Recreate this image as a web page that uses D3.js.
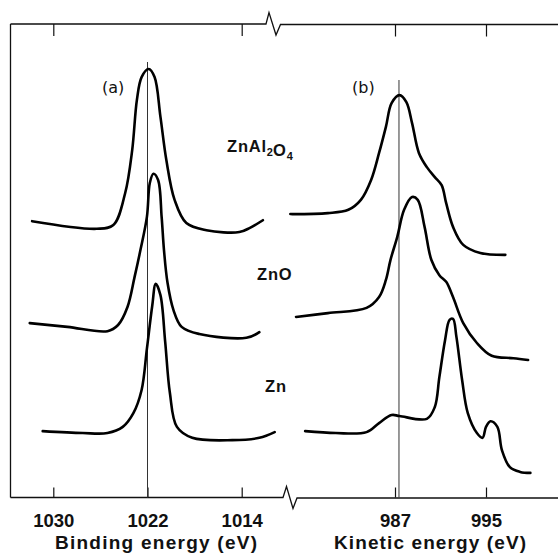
<!DOCTYPE html>
<html>
<head>
<meta charset="utf-8">
<script src="https://cdn.jsdelivr.net/npm/d3@7"></script>
<style>
  html, body { margin: 0; padding: 0; background: #fff; }
  svg { display: block; }
</style>
</head>
<body>
<svg id="chart" width="558" height="557"></svg>
<script>
// ---------- data ----------
const bindingTicks = [1030, 1022, 1014];
const bindingTopTicks = [1030, 1014];
const kineticTicks = [987, 995];
const refBinding = 1022;     // reference line, panel (a)
const refKinetic = 987.35;   // reference line, panel (b)
const panelLabels = ["(a)", "(b)"];
const sampleNames = ["ZnAl2O4", "ZnO", "Zn"];

// panel (a): Zn 2p3/2, binding energy (eV), intensity (a.u., stacked)
const znal2o4BE = [[1031.8,58.4],[1026.3,56.8],[1024.9,57.6],[1023.9,64.3],[1023.3,73.4],[1022.9,84.0],[1022.5,88.8],[1021.9,90.5],[1021.4,88.8],[1020.9,80.4],[1020.4,71.3],[1019.7,62.9],[1018.7,58.0],[1017.0,56.5],[1014.2,56.1],[1013.3,57.0],[1012.2,58.6]];
const znoBE = [[1032.0,36.9],[1028.8,36.1],[1025.4,35.2],[1024.5,36.5],[1023.7,40.3],[1023.1,46.6],[1022.6,52.3],[1022.05,59.3],[1021.8,66.5],[1021.5,68.4],[1021.1,67.1],[1020.8,59.3],[1020.6,52.3],[1020.3,45.4],[1019.8,39.7],[1019.1,36.1],[1017.6,34.6],[1013.6,33.8],[1012.5,35.0]];
const znBE = [[1030.9,14.1],[1027.5,13.7],[1025.4,13.7],[1024.1,15.0],[1023.2,17.9],[1022.5,22.8],[1022.05,31.5],[1021.6,40.5],[1021.3,45.2],[1020.9,42.8],[1020.5,33.0],[1020.1,22.2],[1019.5,15.0],[1018.2,12.7],[1014.8,12.2],[1012.5,12.7],[1011.2,13.9]];

// panel (b): Zn LMM Auger, kinetic energy (eV), intensity (a.u., stacked)
const znal2o4KE = [[977.8,59.9],[981.1,60.1],[982.9,60.8],[984.0,62.9],[984.9,67.1],[985.6,72.8],[986.2,78.3],[986.7,83.3],[987.4,85.0],[988.0,83.5],[988.5,79.1],[989.1,72.8],[989.8,69.8],[990.5,67.7],[991.1,66.0],[991.5,62.2],[992.1,57.2],[993.0,53.4],[994.5,51.7],[996.7,51.3]];
const znoKE = [[978.3,38.2],[981.1,39.0],[984.5,40.1],[985.6,42.4],[986.2,46.0],[986.6,50.2],[987.2,55.1],[987.8,60.8],[988.5,63.5],[989.0,62.9],[989.6,57.2],[990.2,50.2],[990.9,47.0],[991.5,45.6],[992.1,42.4],[993.0,36.9],[994.2,32.7],[995.5,30.0],[997.4,29.5],[998.7,29.1]];
const znKE = [[979.1,14.1],[981.8,13.7],[984.5,13.9],[985.6,15.8],[986.7,17.5],[987.4,17.3],[989.8,16.7],[990.5,19.2],[990.9,25.5],[991.4,33.3],[991.8,37.6],[992.1,37.8],[992.4,34.0],[992.9,24.9],[993.4,17.9],[994.2,13.7],[994.7,12.7],[995.0,15.0],[995.4,16.2],[996.0,15.0],[996.4,10.1],[997.1,6.5],[998.0,5.5],[998.9,5.3]];

// ---------- layout ----------
const svg = d3.select("#chart");
const yTop = 24, yBot = 497.5, xLeft = 10.5;
const xA = d3.scaleLinear().domain([1030, 1014]).range([53.3, 241.7]);
const xB = d3.scaleLinear().domain([987, 995]).range([395, 486]);
const y = d3.scaleLinear().domain([0, 100]).range([498, 24]);

const ink = "#111";
const frame = svg.append("g").attr("fill", "none").attr("stroke", ink).attr("stroke-width", 1.3);

// frame: left edge, top & bottom lines with break marks
frame.append("path").attr("d", `M${xLeft},${yTop}V${yBot}`);
frame.append("path").attr("d",
  `M${xLeft},${yTop}H266L269,12.5L276,35L280.5,24.5H558`);
frame.append("path").attr("d",
  `M${xLeft},${yBot}H283L286.5,486.5L293,508.5L297,498H558`);

// axes (ticks + labels)
function styleAxis(g) {
  g.select(".domain").remove();
  g.selectAll(".tick line").attr("stroke", ink).attr("stroke-width", 1.2);
  g.selectAll(".tick text")
    .attr("fill", ink)
    .attr("font-family", "'Liberation Sans', Arial, sans-serif")
    .attr("font-weight", "bold")
    .attr("font-size", 18.5);
}
const botA = svg.append("g").attr("transform", `translate(0,${yBot})`)
  .call(d3.axisBottom(xA).tickValues(bindingTicks).tickFormat(d3.format("d")).tickSize(-10).tickPadding(18));
styleAxis(botA);
const botB = svg.append("g").attr("transform", `translate(0,${yBot})`)
  .call(d3.axisBottom(xB).tickValues(kineticTicks).tickFormat(d3.format("d")).tickSize(-10).tickPadding(18));
styleAxis(botB);
[botA, botB].forEach(g => g.selectAll(".tick text").attr("dy", null).attr("y", 29));

const topA = svg.append("g").attr("transform", `translate(0,${yTop})`)
  .call(d3.axisTop(xA).tickValues(bindingTopTicks).tickFormat("").tickSize(-12));
styleAxis(topA);
const topB = svg.append("g").attr("transform", `translate(0,${yTop + 0.5})`)
  .call(d3.axisTop(xB).tickValues(kineticTicks).tickFormat("").tickSize(-12));
styleAxis(topB);

// axis titles
const titleFont = "'Liberation Sans', Arial, sans-serif";
svg.append("text").attr("x", 156).attr("y", 549).attr("text-anchor", "middle")
  .attr("font-family", titleFont).attr("font-weight", "bold").attr("font-size", 19)
  .attr("textLength", 202).attr("lengthAdjust", "spacing").attr("fill", ink)
  .text("Binding energy (eV)");
svg.append("text").attr("x", 430).attr("y", 549).attr("text-anchor", "middle")
  .attr("font-family", titleFont).attr("font-weight", "bold").attr("font-size", 19)
  .attr("textLength", 192).attr("lengthAdjust", "spacing").attr("fill", ink)
  .text("Kinetic energy (eV)");

// reference lines
svg.append("line").attr("x1", xA(refBinding)).attr("x2", xA(refBinding))
  .attr("y1", 62).attr("y2", yBot).attr("stroke", "#333").attr("stroke-width", 1);
svg.append("line").attr("x1", xB(refKinetic)).attr("x2", xB(refKinetic))
  .attr("y1", 80).attr("y2", yBot).attr("stroke", "#333").attr("stroke-width", 1);

// spectra
const lineA = d3.line().x(d => xA(d[0])).y(d => y(d[1])).curve(d3.curveCatmullRom.alpha(0.5));
const lineB = d3.line().x(d => xB(d[0])).y(d => y(d[1])).curve(d3.curveCatmullRom.alpha(0.5));
[znal2o4BE, znoBE, znBE].forEach(s =>
  svg.append("path").attr("d", lineA(s)).attr("fill", "none").attr("stroke", "#000")
    .attr("stroke-width", 2.6).attr("stroke-linejoin", "round").attr("stroke-linecap", "round"));
[znal2o4KE, znoKE, znKE].forEach(s =>
  svg.append("path").attr("d", lineB(s)).attr("fill", "none").attr("stroke", "#000")
    .attr("stroke-width", 2.6).attr("stroke-linejoin", "round").attr("stroke-linecap", "round"));

// panel labels
const plFont = "'DejaVu Sans', sans-serif";
svg.append("text").attr("x", 102).attr("y", 93).attr("font-family", plFont)
  .attr("font-size", 16).attr("fill", ink).text(panelLabels[0]);
svg.append("text").attr("x", 352).attr("y", 93).attr("font-family", plFont)
  .attr("font-size", 16).attr("fill", ink).text(panelLabels[1]);

// sample labels (chemical formulas with subscripts)
function formula(x, yy, name) {
  const t = svg.append("text").attr("x", x).attr("y", yy)
    .attr("font-family", "'Liberation Sans', Arial, sans-serif")
    .attr("font-weight", "bold").attr("font-size", 16.5).attr("fill", ink)
    .attr("letter-spacing", 0.8);
  const parts = name.match(/[A-Za-z]+|\d+/g);
  parts.forEach(p => {
    if (/\d/.test(p)) {
      t.append("tspan").attr("font-size", 11).attr("letter-spacing", 0).attr("dy", 4).text(p);
      t.append("tspan").attr("dy", -4).text("");
    } else {
      t.append("tspan").text(p);
    }
  });
}
formula(227, 152, sampleNames[0]);
formula(257, 280, sampleNames[1]);
formula(265, 392, sampleNames[2]);
</script>
</body>
</html>
